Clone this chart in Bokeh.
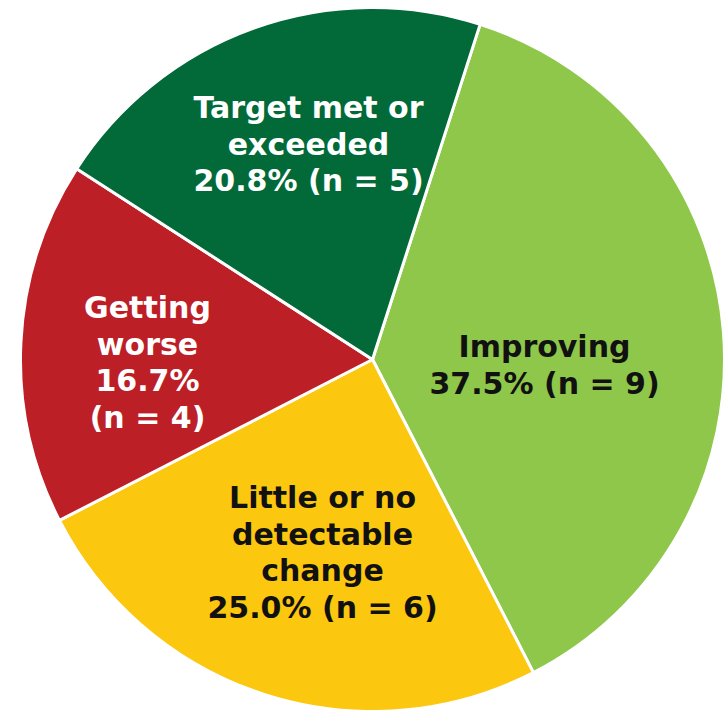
from bokeh.plotting import figure
from bokeh.models import Range1d, ColumnDataSource
from bokeh.core.properties import value
from bokeh.embed import file_html
from bokeh.resources import INLINE

# Status of indicators
categories = ["Improving", "Little or no detectable change", "Getting worse", "Target met or exceeded"]
counts = [9, 6, 4, 5]
colors = ["#8FC74A", "#FBC70F", "#BD1F26", "#026A38"]
text_colors = ["#111111", "#111111", "#FFFFFF", "#FFFFFF"]

# Label lines per slice (category wording split over lines; the value line is appended)
label_lines = [
    ["Improving"],
    ["Little or no", "detectable", "change"],
    ["Getting", "worse"],
    ["Target met or", "exceeded"],
]
split_value = [False, False, True, False]

W, H = 727, 710
cx, cy, r = 372, H - 359, 352
start_deg = 72.2  # first slice starts here and runs clockwise

total = sum(counts)
pcts = [c / total * 100 for c in counts]

starts, ends = [], []
cum = 0.0
for c in counts:
    frac0 = cum / total
    cum += c
    frac1 = cum / total
    starts.append(start_deg - 360 * frac1)
    ends.append(start_deg - 360 * frac0)

src = ColumnDataSource(dict(start=starts, end=ends, color=colors, cat=categories))

p = figure(width=W, height=H, x_range=Range1d(0, W), y_range=Range1d(0, H),
           output_backend="svg", toolbar_location=None, min_border=0)
p.axis.visible = False
p.grid.visible = False
p.outline_line_color = None
p.background_fill_color = "white"

p.wedge(x=cx, y=cy, radius=r, start_angle="start", end_angle="end",
        start_angle_units="deg", end_angle_units="deg",
        fill_color="color", line_color="white", line_width=3,
        source=src)

# label anchors: centre x and first line position (screen px from top)
anchor_x = [544, 322, 147, 308]
anchor_y = [346, 497, 307, 107]
line_gap = 36.5

xs, ys, texts, tcols = [], [], [], []
for i in range(len(categories)):
    lines = list(label_lines[i])
    pct_txt = f"{pcts[i]:.1f}%"
    n_txt = f"(n = {counts[i]})"
    if split_value[i]:
        lines += [pct_txt, n_txt]
    else:
        lines.append(f"{pct_txt} {n_txt}")
    for j, t in enumerate(lines):
        xs.append(anchor_x[i])
        ys.append(H - (anchor_y[i] + j * line_gap))
        texts.append(t)
        tcols.append(text_colors[i])

p.text(x=xs, y=ys, text=texts, text_color=tcols, text_align="center",
       text_baseline="alphabetic", text_font=value("DejaVu Sans"),
       text_font_style="bold", text_font_size="30px")

open("out.html", "w").write(file_html(p, INLINE))
